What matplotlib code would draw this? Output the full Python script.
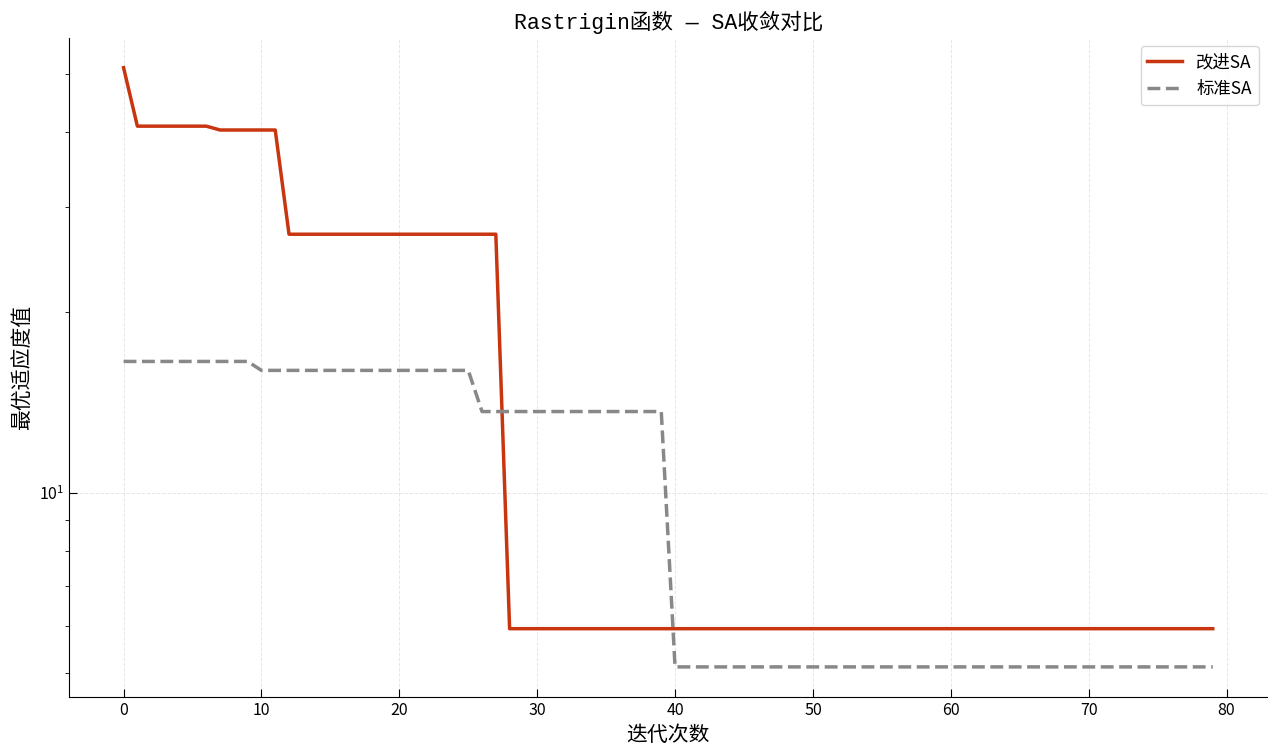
import matplotlib
matplotlib.use('Agg')
import matplotlib.pyplot as plt
import numpy as np

plt.rcParams['font.family'] = ['Liberation Sans Narrow', 'Noto Sans CJK SC', 'DejaVu Sans']
plt.rcParams['axes.unicode_minus'] = False

iters = np.arange(80)

# best fitness per iteration (segments: start, end, value)
improved_steps = [(0, 0, 51.2), (1, 6, 40.9), (7, 11, 40.3), (12, 27, 27.0), (28, 79, 5.93)]
standard_steps = [(0, 9, 16.56), (10, 25, 16.0), (26, 39, 13.66), (40, 79, 5.12)]

def expand(steps):
    vals = []
    for a, b, v in steps:
        vals += [v] * (b - a + 1)
    return np.array(vals)

improved = expand(improved_steps)
standard = expand(standard_steps)

fig, ax = plt.subplots(figsize=(12.8, 7.55), dpi=100)
ax.plot(iters, improved, color='#c8350f', lw=2.5, label='改进SA')
ax.plot(iters, standard, color='#888888', lw=2.5, ls='--', label='标准SA')
ax.set_yscale('log')

ax.set_title('Rastrigin函数 — SA收敛对比', fontsize=15.5,
             family=['Liberation Mono', 'Noto Sans CJK SC'])
ax.set_xlabel('迭代次数', fontsize=15)
ax.set_ylabel('最优适应度值', fontsize=15)

ax.spines['top'].set_visible(False)
ax.spines['right'].set_visible(False)
ax.tick_params(direction='in', labelsize=11.5)
ax.tick_params(which='major', length=6)
ax.tick_params(which='minor', length=3)
ax.grid(True, ls='--', lw=0.7, alpha=0.3)
ax.legend(loc='upper right', fontsize=12.5)

fig.subplots_adjust(left=0.054, right=0.99, top=0.95, bottom=0.077)
fig.savefig('out.png', dpi=100)
